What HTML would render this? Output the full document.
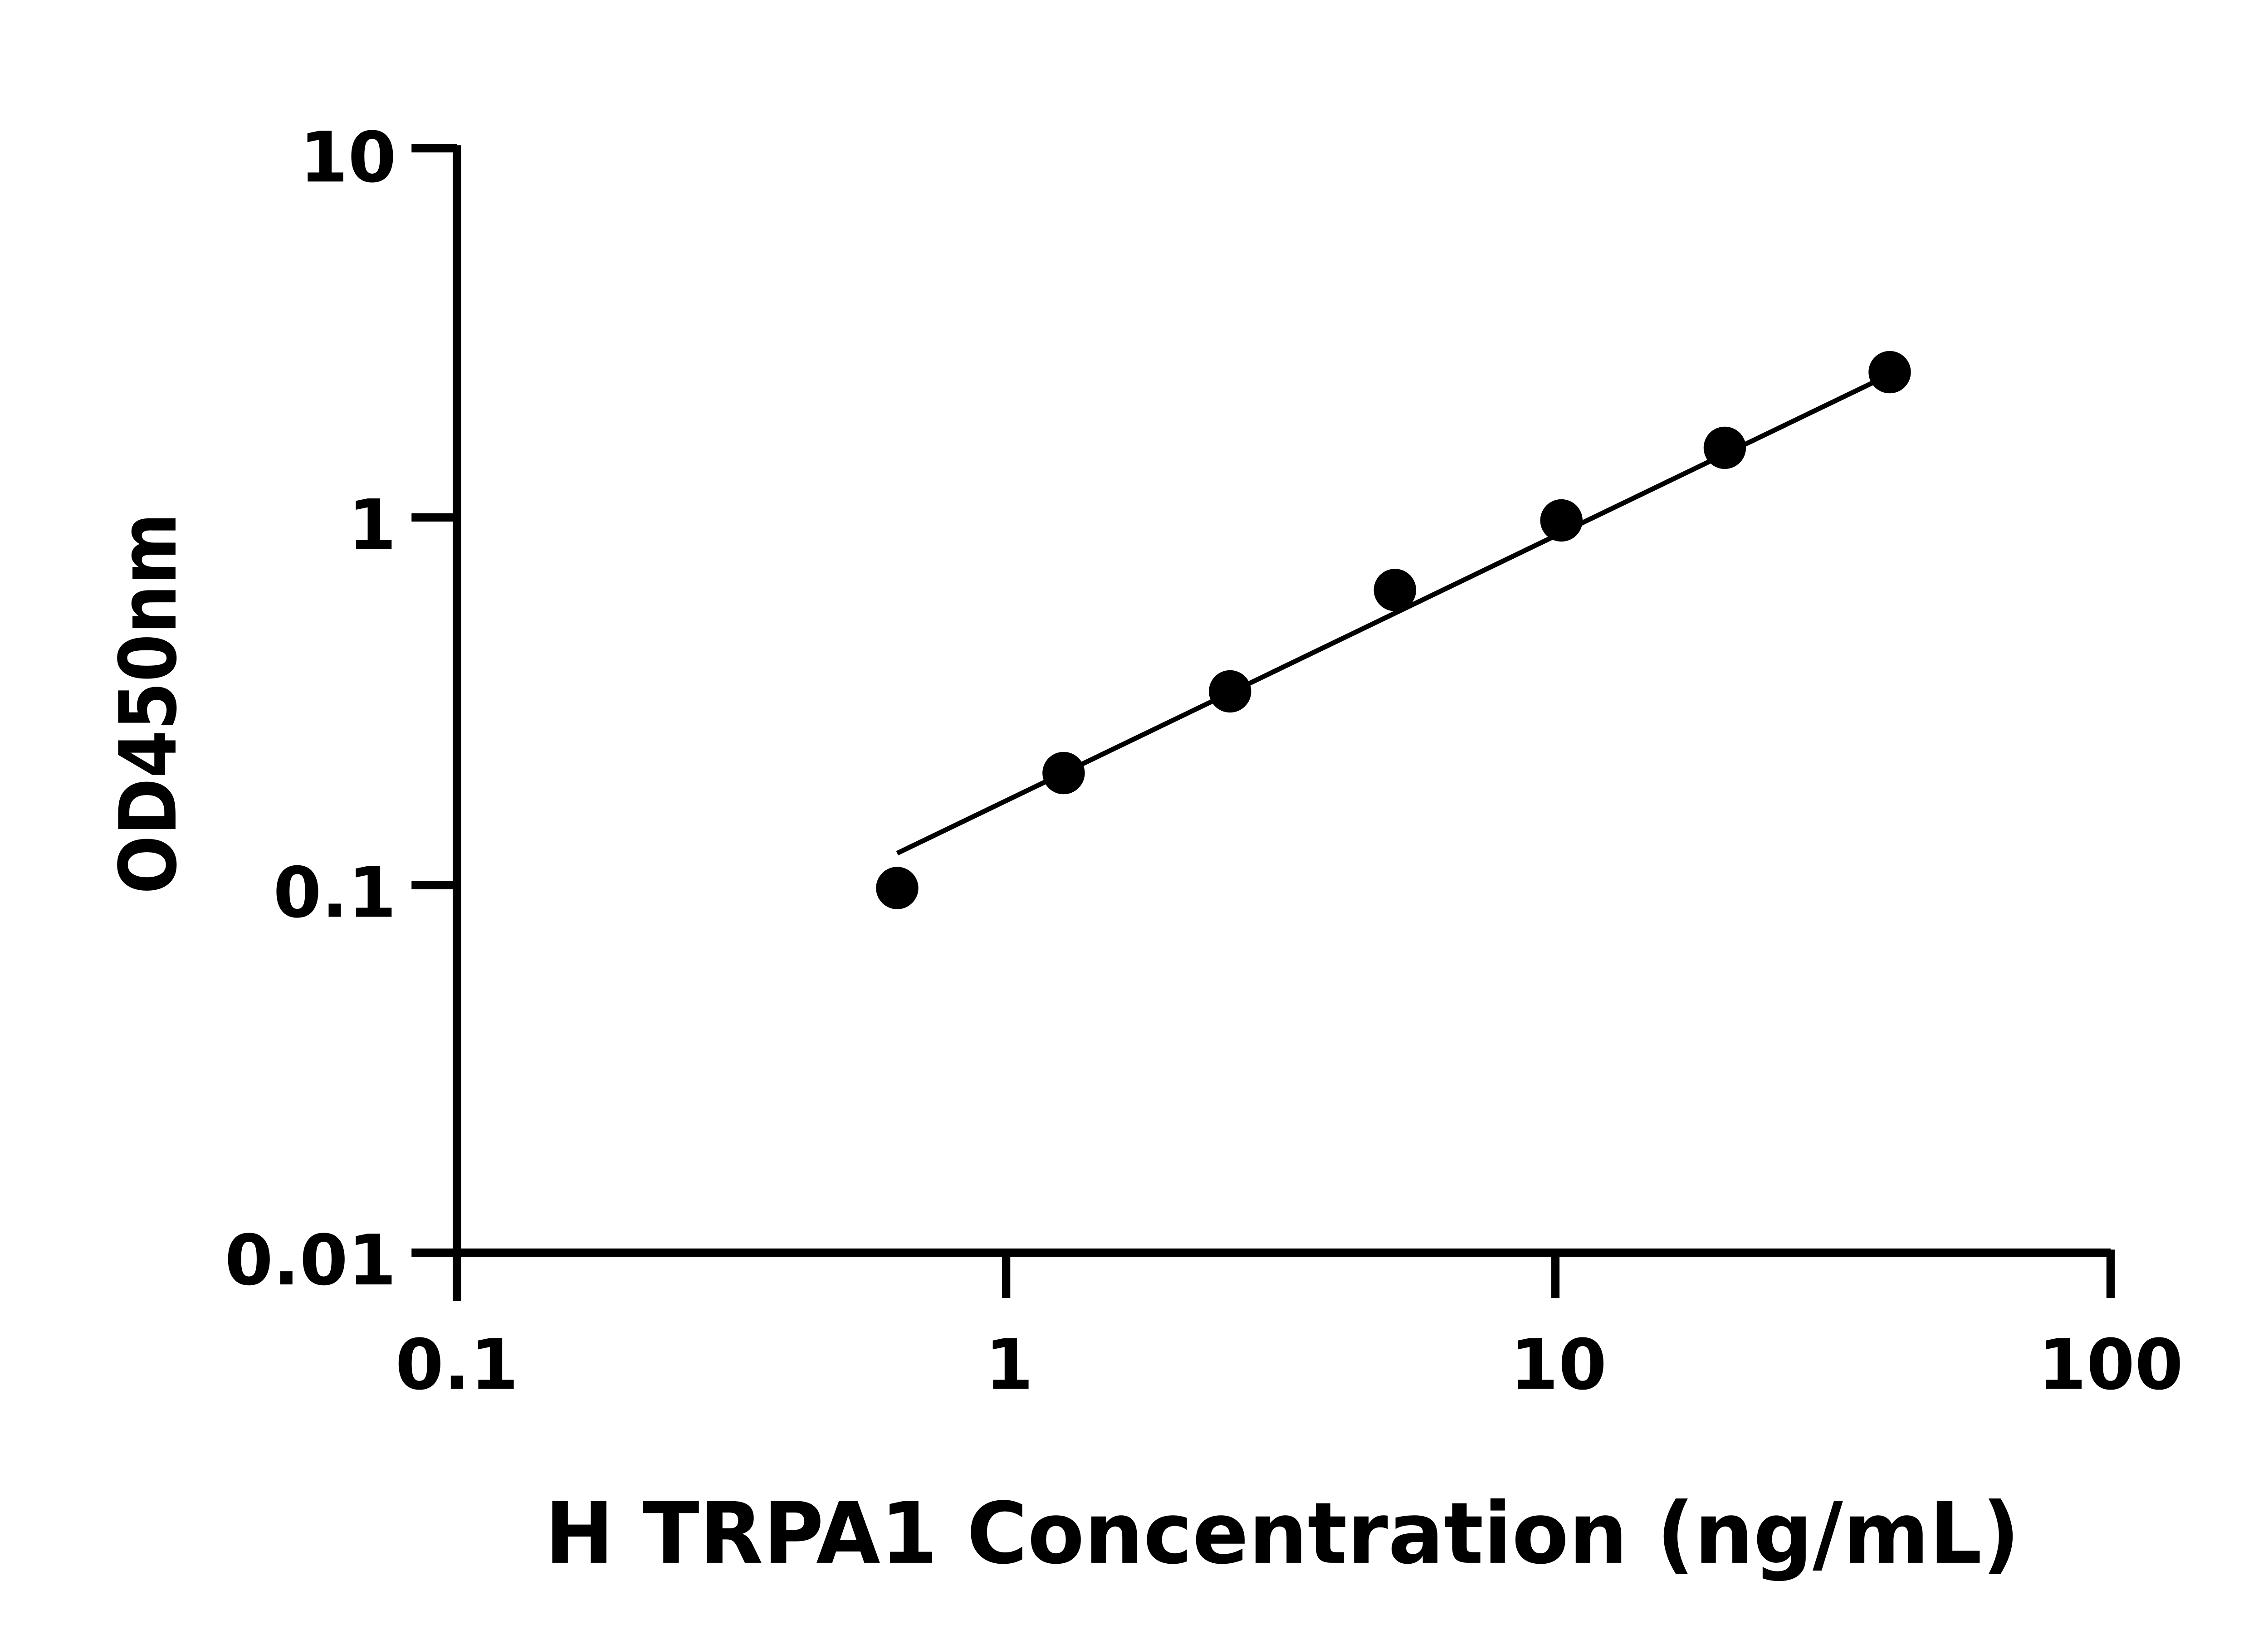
<!DOCTYPE html>
<html><head><meta charset="utf-8"><style>html,body{margin:0;padding:0;background:#fff}svg{display:block}</style></head>
<body>
<svg width="5170" height="3636" viewBox="0 0 1550 1090" preserveAspectRatio="none" xmlns="http://www.w3.org/2000/svg">
<g stroke="#000" stroke-width="5.5" fill="none">
<line x1="302" y1="96" x2="302" y2="860"/>
<line x1="272" y1="98" x2="302" y2="98"/>
<line x1="272" y1="342" x2="302" y2="342"/>
<line x1="272" y1="585" x2="302" y2="585"/>
<line x1="272" y1="828" x2="1395" y2="828"/>
<line x1="665" y1="828" x2="665" y2="858"/>
<line x1="1028" y1="828" x2="1028" y2="858"/>
<line x1="1395" y1="826" x2="1395" y2="858"/>
</g>
<line x1="593" y1="564" x2="1244" y2="250" stroke="#000" stroke-width="3.2"/>
<g fill="#000">
<circle cx="593" cy="587" r="14"/>
<circle cx="703" cy="511" r="14"/>
<circle cx="813" cy="457" r="14"/>
<circle cx="922" cy="390" r="14"/>
<circle cx="1032" cy="344" r="14"/>
<circle cx="1140" cy="296" r="14"/>
<circle cx="1249" cy="246" r="14"/>
</g>
<g font-family="DejaVu Sans, Liberation Sans, sans-serif" font-weight="bold" font-size="46" fill="#000">
<g text-anchor="end">
<text x="262" y="120">10</text>
<text x="262" y="363">1</text>
<text x="262" y="606">0.1</text>
<text x="262" y="849">0.01</text>
</g>
<g text-anchor="middle">
<text x="302" y="918">0.1</text>
<text x="667" y="918">1</text>
<text x="1030" y="918">10</text>
<text x="1395" y="918">100</text>
</g>
<text x="360" y="1033" font-size="56" textLength="975" lengthAdjust="spacingAndGlyphs">H TRPA1 Concentration (ng/mL)</text>
<text transform="translate(116,465) rotate(-90)" text-anchor="middle" font-size="52" textLength="252" lengthAdjust="spacingAndGlyphs">OD450nm</text>
</g>
</svg>
</body></html>
